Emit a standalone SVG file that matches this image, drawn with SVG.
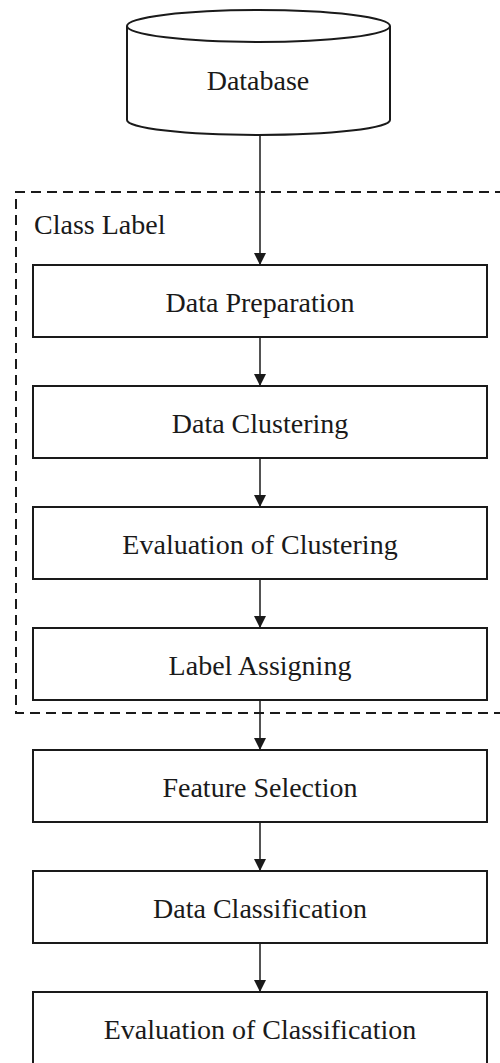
<svg xmlns="http://www.w3.org/2000/svg" width="500" height="1063" viewBox="0 0 500 1063">
<style>
.box{fill:#fff;stroke:#1a1a1a;stroke-width:2}
.t{font-family:"Liberation Serif","Times New Roman",serif;font-size:28px;fill:#1a1a1a;text-anchor:middle}
.edge{stroke:#1a1a1a;stroke-width:1.5;fill:none;marker-end:url(#ah)}
</style>
<defs>
<marker id="ah" markerWidth="12" markerHeight="12" viewBox="0 0 12 12" refX="12" refY="6" orient="auto" markerUnits="userSpaceOnUse">
<path d="M0,0 L12,6 L0,12 Z" fill="#1a1a1a"/>
</marker>
</defs>
<rect width="500" height="1063" fill="#fff"/>
<g id="class-label-group">
<path d="M505,192 L16,192 L16,713 L505,713" fill="none" stroke="#1a1a1a" stroke-width="2" stroke-dasharray="10,6"/>
<text x="34" y="234" class="t" style="text-anchor:start">Class Label</text>
</g>
<g id="connectors">
<line x1="260" y1="136" x2="260" y2="265" class="edge"/>
<line x1="260" y1="337" x2="260" y2="386" class="edge"/>
<line x1="260" y1="458" x2="260" y2="507" class="edge"/>
<line x1="260" y1="579" x2="260" y2="628" class="edge"/>
<line x1="260" y1="700" x2="260" y2="750" class="edge"/>
<line x1="260" y1="822" x2="260" y2="871" class="edge"/>
<line x1="260" y1="943" x2="260" y2="992" class="edge"/>
</g>
<g id="database">
<path d="M127,26 L127,120 A131.5,15 0 0 0 390,120 L390,26" class="box"/>
<ellipse cx="258.5" cy="26" rx="131.5" ry="16" class="box"/>
<text x="258" y="90" class="t">Database</text>
</g>
<g id="data-preparation">
<rect x="33" y="265" width="454" height="72" class="box"/>
<text x="260" y="312" class="t">Data Preparation</text>
</g>
<g id="data-clustering">
<rect x="33" y="386" width="454" height="72" class="box"/>
<text x="260" y="433" class="t">Data Clustering</text>
</g>
<g id="evaluation-of-clustering">
<rect x="33" y="507" width="454" height="72" class="box"/>
<text x="260" y="554" class="t">Evaluation of Clustering</text>
</g>
<g id="label-assigning">
<rect x="33" y="628" width="454" height="72" class="box"/>
<text x="260" y="675" class="t">Label Assigning</text>
</g>
<g id="feature-selection">
<rect x="33" y="750" width="454" height="72" class="box"/>
<text x="260" y="797" class="t">Feature Selection</text>
</g>
<g id="data-classification">
<rect x="33" y="871" width="454" height="72" class="box"/>
<text x="260" y="918" class="t">Data Classification</text>
</g>
<g id="evaluation-of-classification">
<rect x="33" y="992" width="454" height="80" class="box"/>
<text x="260" y="1039" class="t">Evaluation of Classification</text>
</g>
</svg>
